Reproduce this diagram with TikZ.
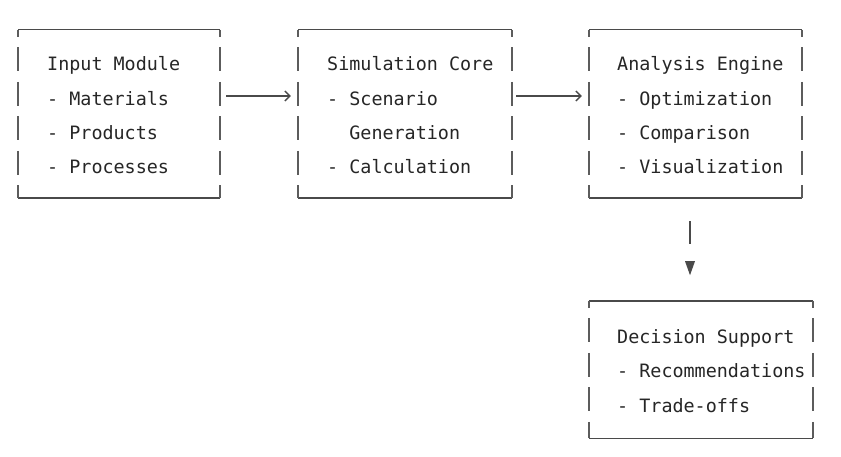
\documentclass[tikz,border=0pt]{standalone}
\usepackage{fontspec}
\setmonofont{DejaVu Sans Mono}
\usetikzlibrary{arrows.meta}
\definecolor{ink}{HTML}{262626}
\definecolor{framecol}{HTML}{4A4A4A}
\newcommand\tkframe[1]{%
  \draw[hline] (#1.north west) -- (#1.north east);
  \draw[hline] (#1.south west) -- (#1.south east);
  \draw[vline] (#1.north west) -- (#1.south west);
  \draw[vline] (#1.north east) -- (#1.south east);}
\begin{document}
\begin{tikzpicture}[x=1pt,y=-1pt,
  box/.style 2 args={rectangle,draw=none,inner sep=0pt,minimum width=#1,minimum height=#2},
  txt/.style={anchor=base west,inner sep=0pt,text=ink,font=\ttfamily\fontsize{18.4}{22}\selectfont},
  hline/.style={draw=framecol,line width=1.4pt},
  vline/.style={draw=framecol!90,line width=1.6pt,dash pattern=on 24pt off 10.5pt,dash phase=17pt},
  conn/.style={draw=framecol,line width=1.4pt,-{Straight Barb[length=5pt,width=10pt,line width=1.4pt]}},
  link/.style={draw=framecol,line width=1.6pt}]
\useasboundingbox[fill=white] (0,0) rectangle (841,457);

% boxes
\node[box={202pt}{168pt}] (b1) at (119,114) {};
\node[box={214pt}{168pt}] (b2) at (405,114) {};
\node[box={213pt}{168pt}] (b3) at (695.5,114) {};
\node[box={224pt}{137pt}] (b4) at (701,369.5) {};
\tkframe{b1}
\tkframe{b2}
\tkframe{b3}
\tkframe{b4}

% texts
\node[txt] (t1a) at (47,70.7) {Input Module};
\node[txt] (t1b) at (47,105.1) {- Materials};
\node[txt] (t1c) at (47,139.5) {- Products};
\node[txt] (t1d) at (47,173.9) {- Processes};

\node[txt] (t2a) at (327,70.7) {Simulation Core};
\node[txt] (t2b) at (327,105.1) {- Scenario};
\node[txt] (t2c) at (327,139.5) {\ \ Generation};
\node[txt] (t2d) at (327,173.9) {- Calculation};

\node[txt] (t3a) at (617,70.7) {Analysis Engine};
\node[txt] (t3b) at (617,105.1) {- Optimization};
\node[txt] (t3c) at (617,139.5) {- Comparison};
\node[txt] (t3d) at (617,173.9) {- Visualization};

\node[txt] (t4a) at (617,343.4) {Decision Support};
\node[txt] (t4b) at (617,377.8) {- Recommendations};
\node[txt] (t4c) at (617,412.2) {- Trade-offs};

% connectors
\draw[conn,shorten <=6pt,shorten >=7pt] ([yshift=18pt]b1.east) -- ([yshift=18pt]b2.west);
\draw[conn,shorten <=4pt,shorten >=7pt] ([yshift=18pt]b2.east) -- ([yshift=18pt]b3.west);

\coordinate (d0) at (b3.south -| 690,0);
\draw[link] ([yshift=-23pt]d0) -- ([yshift=-46pt]d0);
\fill[framecol] ([xshift=-5pt,yshift=-63pt]d0) -- ([xshift=5pt,yshift=-63pt]d0) -- ([yshift=-77pt]d0) -- cycle;
\end{tikzpicture}
\end{document}
